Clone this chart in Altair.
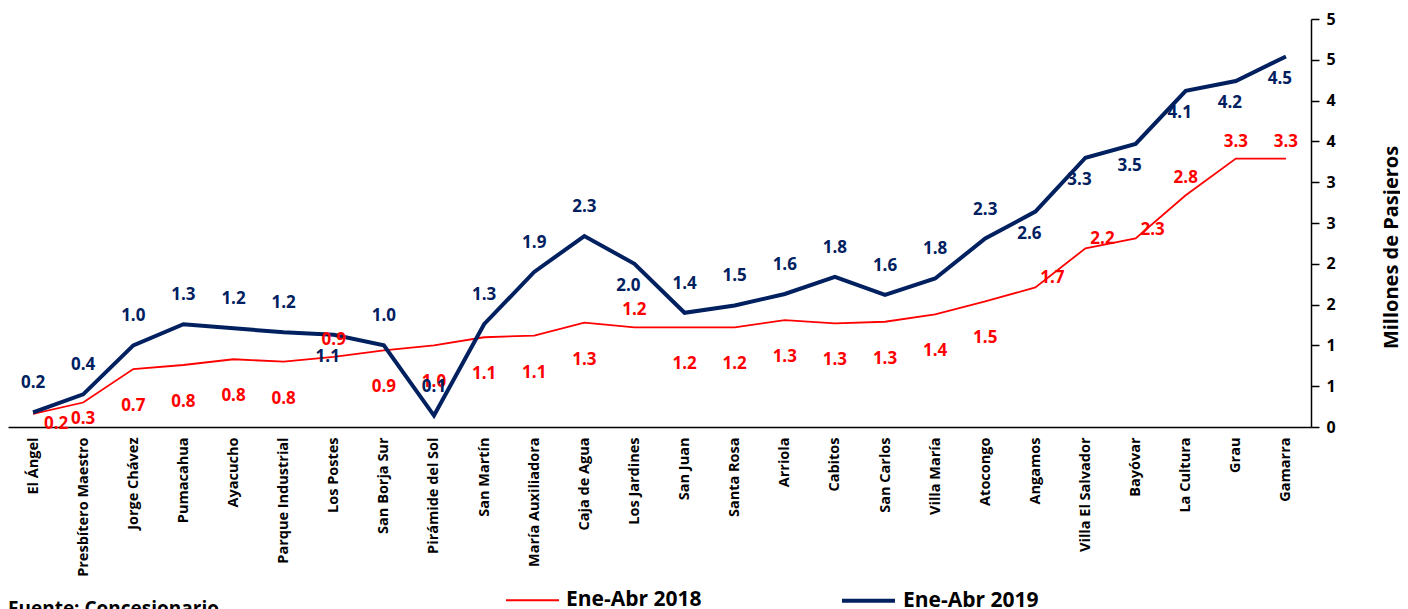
import altair as alt
import pandas as pd

stations = ["El Ángel", "Presbítero Maestro", "Jorge Chávez", "Pumacahua", "Ayacucho",
            "Parque Industrial", "Los Postes", "San Borja Sur", "Pirámide del Sol", "San Martín",
            "María Auxiliadora", "Caja de Agua", "Los Jardines", "San Juan", "Santa Rosa",
            "Arriola", "Cabitos", "San Carlos", "Villa María", "Atocongo", "Angamos",
            "Villa El Salvador", "Bayóvar", "La Cultura", "Grau", "Gamarra"]

v2018 = [0.16, 0.30, 0.71, 0.76, 0.83, 0.80, 0.86, 0.94, 1.00, 1.10, 1.12, 1.28, 1.22,
         1.22, 1.22, 1.31, 1.27, 1.29, 1.38, 1.54, 1.71, 2.19, 2.31, 2.84, 3.29, 3.29]
v2019 = [0.18, 0.40, 1.00, 1.26, 1.21, 1.16, 1.13, 1.00, 0.14, 1.26, 1.90, 2.34, 2.00,
         1.40, 1.49, 1.63, 1.84, 1.62, 1.82, 2.31, 2.64, 3.30, 3.47, 4.12, 4.24, 4.54]

# label placement codes (relative to the point)
pos2018 = ["lowr", "low"] + ["below"] * 4 + ["above"] + ["below"] * 5 + ["above"] + \
          ["below"] * 7 + ["aboveright"] * 3 + ["above"] * 3
pos2019 = ["above"] * 6 + ["below"] + ["above"] * 5 + ["below"] + ["above"] * 7 + ["below"] * 6

series_names = ["Ene-Abr 2018", "Ene-Abr 2019"]
colors = ["#FF0000", "#002060"]
source_note = ["Fuente: Concesionario"]

rows = []
for s, vals, poss in [(series_names[0], v2018, pos2018), (series_names[1], v2019, pos2019)]:
    for st, v, p in zip(stations, vals, poss):
        rows.append({"station": st, "series": s, "value": v, "pos": p})
df = pd.DataFrame(rows)

FONT = "Open Sans"

x_enc = alt.X("station:N", sort=stations,
              axis=alt.Axis(title=None, labelAngle=270, labelFontWeight="bold", labelFontSize=14.5,
                            labelColor="black", ticks=False, domainColor="black", domainWidth=1.5,
                            labelPadding=10, labelFont=FONT, labelAlign="right",
                            labelBaseline="middle"))
y_enc = alt.Y("value:Q",
              scale=alt.Scale(domain=[0, 5], nice=False),
              axis=alt.Axis(orient="right", values=[0, 0.5, 1, 1.5, 2, 2.5, 3, 3.5, 4, 4.5, 5],
                            labelExpr="round(datum.value)", grid=False, tickSize=8,
                            tickColor="black", domainColor="black", domainWidth=1.5, tickWidth=1.5,
                            labelFontSize=16, labelFontWeight="bold", labelColor="black",
                            labelFont=FONT, labelPadding=7,
                            title="Millones de Pasjeros", titleAngle=270, titleFontSize=20,
                            titleFontWeight="bold", titleFont=FONT, titleColor="black",
                            titlePadding=66, titleY=228))

legend_cfg = dict(title=None, orient="none", legendX=497, legendY=553,
                  direction="horizontal", symbolType="stroke", symbolSize=2809,
                  labelFontSize=21, labelFontWeight="bold", labelFont=FONT,
                  labelColor="black", columnPadding=132, labelOffset=6, labelLimit=300)

base = alt.Chart(df)

lines = base.mark_line().encode(
    x=x_enc, y=y_enc,
    color=alt.Color("series:N", scale=alt.Scale(domain=series_names, range=colors),
                    legend=alt.Legend(**legend_cfg)),
    strokeWidth=alt.StrokeWidth("series:N", scale=alt.Scale(domain=series_names, range=[1.8, 4]),
                                legend=alt.Legend(**legend_cfg)),
)

offsets = {
    series_names[0]: {"below": (0, 37), "above": (0, -17), "aboveright": (17, -9),
                      "low": (0, 16), "lowr": (23, 10)},
    series_names[1]: {"above": (0, -29), "below": (-6, 22)},
}

layers = [lines]
for s, c in zip(series_names, colors):
    for p, (dx, dy) in offsets[s].items():
        layers.append(
            base.transform_filter((alt.datum.series == s) & (alt.datum.pos == p))
            .mark_text(dx=dx, dy=dy, fontSize=17, fontWeight="bold", font=FONT, color=c)
            .encode(x=x_enc, y=y_enc, text=alt.Text("value:Q", format=".1f"))
        )

note = alt.Chart(pd.DataFrame({"note": source_note})).mark_text(
    align="left", baseline="top", fontSize=19, fontWeight="bold", font=FONT, color="black"
).encode(x=alt.value(0), y=alt.value(581), text="note:N")
layers.append(note)

chart = alt.layer(*layers).properties(
    width=1303, height=408,
    autosize=alt.AutoSizeParams(type="none"),
    padding={"left": 0, "top": 11, "right": 89, "bottom": 182},
).configure_view(stroke=None)

chart.save("out.html", embed_options={"renderer": "svg", "actions": False})
